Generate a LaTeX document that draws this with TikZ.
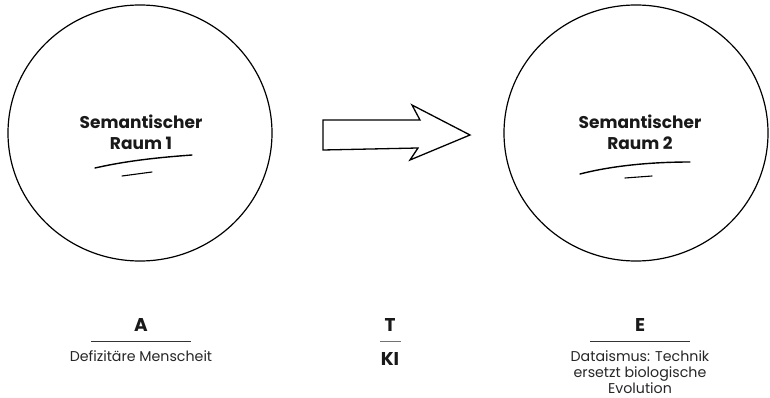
\documentclass[tikz,border=0pt]{standalone}
\usepackage{fontspec}
\setmainfont{Poppins}
\newfontfamily\boldf{Poppins Bold}
\begin{document}
\begin{tikzpicture}[x=1pt,y=-1pt,
  circ/.style={draw=black,line width=1.2pt},
  title/.style={font=\boldf\fontsize{17}{21}\selectfont,align=center,text=black!90},
  letter/.style={font=\boldf\fontsize{18.5}{20}\selectfont,text=black!90},
  desc/.style={font=\fontsize{14.2}{16}\selectfont,align=center,text=black!85},
  rule/.style={line width=0.8pt,draw=black!80},
  stroke/.style={line width=1.4pt,line cap=round}]
\useasboundingbox (0,0) rectangle (770,398);
% circles
\draw[circ] (140,133) ellipse [x radius=132, y radius=128];
\draw[circ] (636,133) ellipse [x radius=132, y radius=128];
\node[title] (s1) at (141,132) {Semantischer\\Raum 1};
\node[title] (s2) at (640,132) {Semantischer\\Raum 2};
% underline strokes
\draw[stroke] (95,168) .. controls (130,160) and (165,157) .. (192,155);
\draw[stroke,line width=1.1pt] (122,176) -- (152,172);
\draw[stroke] (580,174) .. controls (615,165) and (655,162) .. (690,162);
\draw[stroke,line width=1.1pt] (625,178) -- (652,176);
% arrow
\draw[line width=1.3pt,line join=miter] (323,150) -- (323,120) -- (420,120) -- (412,105) -- (470,135) -- (410,160) -- (418,148) -- cycle;
% labels
\node[letter] (a) at (141,325) {A};
\draw[rule] (91,341) -- (191,341);
\node[desc] (da) at (141,356) {Defizitäre Menscheit};
\node[letter] (t) at (390,325) {T};
\draw[rule,draw=black!55] (380,341) -- (401,341);
\node[letter] (ki) at (390,359) {KI};
\node[letter] (e) at (640,325) {E};
\draw[rule] (590,341) -- (690,341);
\node[desc,anchor=north] (de) at (640,347) {Dataismus: Technik\\ersetzt biologische\\Evolution};
\end{tikzpicture}
\end{document}
